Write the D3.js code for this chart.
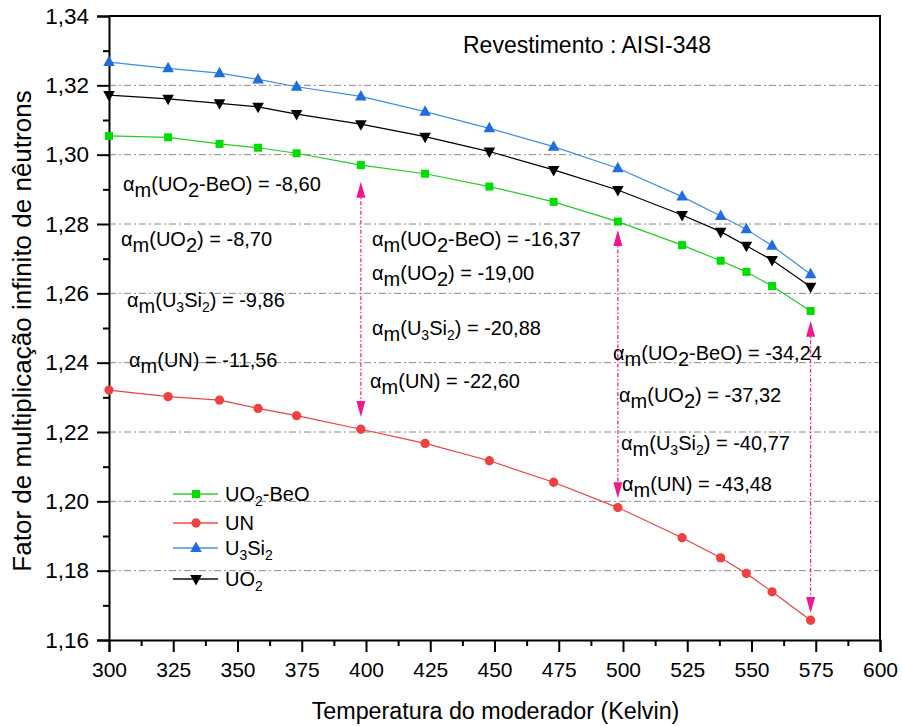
<!DOCTYPE html>
<html>
<head>
<meta charset="utf-8">
<script src="https://cdn.jsdelivr.net/npm/d3@7"></script>
<style>
  html, body { margin: 0; padding: 0; background: #fff; }
  svg { display: block; font-family: Arial, "Liberation Sans", sans-serif; }
</style>
</head>
<body>
<svg id="chart" width="903" height="726"></svg>
<script>
// Moderator temperature (K)
const temps = [300, 323, 343, 358, 373, 398, 423, 448, 473, 498, 523, 538, 548, 558, 573];

// Infinite multiplication factor per fuel
const kUO2BeO = [1.3054, 1.3050, 1.3031, 1.3020, 1.3004, 1.2970, 1.2945, 1.2908, 1.2864, 1.2807, 1.2739, 1.2694, 1.2662, 1.2621, 1.2549];
const kUN     = [1.2321, 1.2302, 1.2292, 1.2268, 1.2247, 1.2208, 1.2167, 1.2117, 1.2055, 1.1982, 1.1895, 1.1837, 1.1792, 1.1739, 1.1657];
const kU3Si2  = [1.3267, 1.3249, 1.3235, 1.3217, 1.3196, 1.3168, 1.3124, 1.3076, 1.3023, 1.2961, 1.2879, 1.2823, 1.2785, 1.2737, 1.2655];
const kUO2    = [1.3172, 1.3161, 1.3148, 1.3138, 1.3117, 1.3088, 1.3052, 1.3009, 1.2956, 1.2898, 1.2826, 1.2778, 1.2737, 1.2696, 1.2619];

// Moderator temperature coefficients (pcm/K) for each temperature interval
const fuelOrder   = ["UO2-BeO", "UO2", "U3Si2", "UN"];
const alphaLow    = [-8.60, -8.70, -9.86, -11.56];
const alphaMid    = [-16.37, -19.00, -20.88, -22.60];
const alphaHigh   = [-34.24, -37.32, -40.77, -43.48];

// Interval markers: temperature and the k range spanned by each double arrow
const arrowTemps  = [398, 498, 573];
const arrowTopK   = [1.2922, 1.2783, 1.2521];
const arrowBotK   = [1.2243, 1.2009, 1.1678];

// Axis ticks
const xTicks      = [300, 325, 350, 375, 400, 425, 450, 475, 500, 525, 550, 575, 600];
const xMinorTicks = [312.5, 337.5, 362.5, 387.5, 412.5, 437.5, 462.5, 487.5, 512.5, 537.5, 562.5, 587.5];
const yTicks      = [1.16, 1.18, 1.20, 1.22, 1.24, 1.26, 1.28, 1.30, 1.32, 1.34];
const yMinorTicks = [1.17, 1.19, 1.21, 1.23, 1.25, 1.27, 1.29, 1.31, 1.33];
const yGrid       = [1.18, 1.20, 1.22, 1.24, 1.26, 1.28, 1.30, 1.32];

const titleText  = "Revestimento : AISI-348";
const xTitle     = "Temperatura do moderador (Kelvin)";
const yTitle     = "Fator de multiplicação infinito de nêutrons";

// ---------------------------------------------------------------------------
const svg = d3.select("#chart");
const plotL = 109, plotR = 880, plotT = 16, plotB = 640;
const x = d3.scaleLinear().domain([300, 600]).range([plotL, plotR]);
const y = d3.scaleLinear().domain([1.16, 1.34]).range([plotB, plotT]);
// Decimal comma and plain hyphen for negatives
const comma = d => d3.format(".2f")(d).replace(".", ",").replace("\u2212", "-");

const series = [
  { name: "UO2-BeO", values: kUO2BeO, color: "#00dd00", line: "#22cc22", symbol: "square" },
  { name: "UN",      values: kUN,     color: "#f04141", line: "#f04141", symbol: "circle" },
  { name: "U3Si2",   values: kU3Si2,  color: "#1e6fdc", line: "#3f8de6", symbol: "up" },
  { name: "UO2",     values: kUO2,    color: "#000000", line: "#000000", symbol: "down" }
];

// Grid lines
svg.append("g").selectAll("line").data(yGrid).join("line")
  .attr("x1", plotL).attr("x2", plotR)
  .attr("y1", d => y(d)).attr("y2", d => y(d))
  .attr("stroke", "#8a8a8a").attr("stroke-width", 1)
  .attr("stroke-dasharray", "7,3,2,3");

// Axes
const font = "Arial, 'Liberation Sans', sans-serif";
const xAxis = svg.append("g").attr("transform", `translate(0,${plotB})`)
  .call(d3.axisBottom(x).tickValues(xTicks).tickSize(12).tickPadding(10).tickFormat(d3.format("d")));
svg.append("g").attr("transform", `translate(0,${plotB})`)
  .call(d3.axisBottom(x).tickValues(xMinorTicks).tickSize(6).tickFormat(""))
  .call(g => g.select(".domain").remove());
const yAxis = svg.append("g").attr("transform", `translate(${plotL},0)`)
  .call(d3.axisLeft(y).tickValues(yTicks).tickSize(12).tickPadding(8).tickFormat(comma));
svg.append("g").attr("transform", `translate(${plotL},0)`)
  .call(d3.axisLeft(y).tickValues(yMinorTicks).tickSize(6).tickFormat(""))
  .call(g => g.select(".domain").remove());

svg.selectAll(".tick line").attr("stroke", "#000").attr("stroke-width", 2);
svg.selectAll(".domain").attr("stroke", "#000").attr("stroke-width", 2);
svg.selectAll(".tick text").filter(function () { return !this.textContent; }).remove();
xAxis.selectAll(".tick text").attr("font-family", font).attr("font-size", 21).attr("fill", "#000");
yAxis.selectAll(".tick text").attr("font-family", font).attr("font-size", 22.5).attr("fill", "#000");

// Frame (top and right)
svg.append("path")
  .attr("d", `M${plotL},${plotT}H${plotR}V${plotB}`)
  .attr("fill", "none").attr("stroke", "#000").attr("stroke-width", 2);

// Axis titles
svg.append("text").attr("x", (plotL + plotR) / 2 + 1).attr("y", 719)
  .attr("text-anchor", "middle").attr("font-size", 23.3).attr("fill", "#000").text(xTitle);
svg.append("text").attr("transform", `translate(31,331) rotate(-90)`)
  .attr("text-anchor", "middle").attr("font-size", 26).attr("fill", "#000").text(yTitle);

// Chart heading
svg.append("text").attr("x", 463).attr("y", 53).attr("font-size", 23).attr("fill", "#000").text(titleText);

// Symbols
function symbolPath(kind) {
  if (kind === "square") return "M-4,-4H4V4H-4Z";
  if (kind === "circle") return d3.symbol(d3.symbolCircle, 68)();
  if (kind === "up") return "M0,-6.5L5.8,4H-5.8Z";
  return "M0,6.5L5.8,-4H-5.8Z";
}

// Series lines and markers
const line = d3.line().x(d => x(d[0])).y(d => y(d[1]));
series.forEach(s => {
  const pts = temps.map((t, i) => [t, s.values[i]]);
  svg.append("path").datum(pts).attr("d", line)
    .attr("fill", "none").attr("stroke", s.line).attr("stroke-width", 1.2);
  svg.append("g").selectAll("path").data(pts).join("path")
    .attr("transform", d => `translate(${x(d[0])},${y(d[1])})`)
    .attr("d", symbolPath(s.symbol)).attr("fill", s.color);
});

// Double arrows marking the temperature intervals
const pink = "#f0188c";
arrowTemps.forEach((t, i) => {
  const xa = x(t), y1 = y(arrowTopK[i]), y2 = y(arrowBotK[i]);
  svg.append("line").attr("x1", xa).attr("x2", xa).attr("y1", y1 + 10).attr("y2", y2 - 10)
    .attr("stroke", pink).attr("stroke-width", 1.2).attr("stroke-dasharray", "4,2,1.5,2");
  svg.append("path").attr("d", `M${xa},${y1}l4.5,16h-9Z`).attr("fill", pink);
  svg.append("path").attr("d", `M${xa},${y2}l4.5,-16h-9Z`).attr("fill", pink);
});

// Rich text: list of [string, shift, size|null]; each tspan carries the
// baseline change relative to the previous one.
function writeRuns(textSel, runs) {
  let cur = 0;
  runs.forEach(([t, shift, size]) => {
    const sp = textSel.append("tspan").text(t);
    if (shift !== cur) sp.attr("dy", shift - cur);
    if (size) sp.attr("font-size", size);
    cur = shift;
  });
}
// Formula pieces: "sub" is full-size in the coefficient labels, reduced in the legend
const formulaParts = {
  "UO2-BeO": [["UO"], ["2", "sub"], ["-BeO"]],
  "UO2":     [["UO"], ["2", "sub"]],
  "U3Si2":   [["U"], ["3", "small"], ["Si"], ["2", "small"]],
  "UN":      [["UN"]]
};
function formulaRuns(name, subBig) {
  return formulaParts[name].map(([t, kind]) => {
    if (!kind) return [t, 0, null];
    if (kind === "sub" && subBig) return [t, 6, null];
    return [t, 5, 14];
  });
}
function alphaLabel(xp, yp, fuel, value) {
  const t = svg.append("text").attr("x", xp).attr("y", yp).attr("font-size", 20).attr("fill", "#000");
  const runs = [["\u03B1", 0, null], ["m", 6, null], ["(", 0, null]]
    .concat(formulaRuns(fuel, true))
    .concat([[") = " + comma(value), 0, null]]);
  writeRuns(t, runs);
}

// Label anchor positions for each interval group
const groupPos = [
  { xs: [123, 121, 127, 129], ys: [191, 246, 307, 367], values: alphaLow },
  { xs: [372, 372, 372, 370], ys: [246, 280, 335, 388], values: alphaMid },
  { xs: [613, 619, 621, 622], ys: [360, 402, 450, 491], values: alphaHigh }
];
groupPos.forEach(g => fuelOrder.forEach((f, i) => alphaLabel(g.xs[i], g.ys[i], f, g.values[i])));

// Legend
const legendY = [494, 523, 548, 579];
series.forEach((s, i) => {
  const g = svg.append("g").attr("transform", `translate(0,${legendY[i]})`);
  g.append("line").attr("x1", 173).attr("x2", 218).attr("y1", 0).attr("y2", 0)
    .attr("stroke", s.line).attr("stroke-width", 2).attr("stroke-opacity", 0.7);
  g.append("path").attr("transform", "translate(196,0)").attr("d", symbolPath(s.symbol)).attr("fill", s.color);
  const t = g.append("text").attr("x", 225).attr("y", 7).attr("font-size", 20).attr("fill", "#000");
  writeRuns(t, formulaRuns(s.name, false));
});
</script>
</body>
</html>
